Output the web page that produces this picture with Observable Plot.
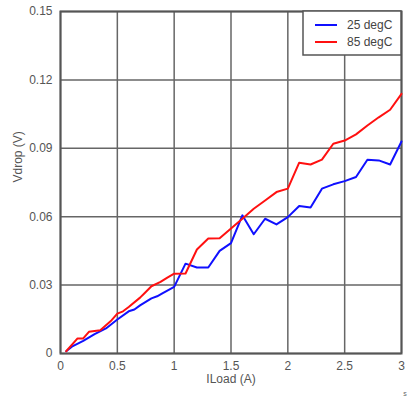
<!DOCTYPE html>
<html>
<head>
<meta charset="utf-8">
<script src="https://cdn.jsdelivr.net/npm/d3@7"></script>
<script src="https://cdn.jsdelivr.net/npm/@observablehq/plot@0.6"></script>
<style>
  html, body { margin: 0; padding: 0; background: #fff; }
  #chart { width: 409px; height: 398px; }
</style>
</head>
<body>
<div id="chart"></div>
<script>
const seriesNames = ["25 degC", "85 degC"];
const seriesColors = ["#1010ff", "#ff1010"];

const blueX = [0.05,0.1,0.2,0.3,0.4,0.5,0.6,0.65,0.7,0.8,0.85,0.9,1.0,1.1,1.2,1.3,1.4,1.5,1.6,1.7,1.8,1.9,2.0,2.1,2.2,2.3,2.4,2.5,2.6,2.7,2.8,2.9,3.0];
const blueY = [0.001,0.003,0.0055,0.0085,0.011,0.0149,0.0185,0.0193,0.0211,0.0242,0.0251,0.0265,0.0292,0.0394,0.0377,0.0377,0.045,0.0484,0.0606,0.0523,0.0591,0.0566,0.0598,0.0647,0.064,0.0723,0.0742,0.0756,0.0774,0.085,0.0847,0.0829,0.0930];

const redX = [0.05,0.15,0.2,0.25,0.35,0.45,0.5,0.55,0.6,0.7,0.75,0.8,0.88,0.94,1.0,1.1,1.2,1.3,1.4,1.5,1.6,1.7,1.8,1.9,2.0,2.1,2.2,2.3,2.4,2.5,2.6,2.7,2.8,2.9,3.0];
const redY = [0.001,0.0066,0.0066,0.0095,0.0102,0.0146,0.0175,0.0185,0.0204,0.0245,0.027,0.0295,0.0314,0.0333,0.035,0.0351,0.0456,0.0504,0.0505,0.0548,0.0591,0.0635,0.0671,0.0708,0.0723,0.0837,0.0829,0.085,0.092,0.0934,0.0961,0.1,0.1036,0.1069,0.1139];

const xTicks = [0, 0.5, 1, 1.5, 2, 2.5, 3];
const yTicks = [0, 0.03, 0.06, 0.09, 0.12, 0.15];
const xLabel = "ILoad (A)";
const yLabel = "Vdrop (V)";

const data = [
  ...blueX.map((x, i) => ({x, y: blueY[i], s: seriesNames[0]})),
  ...redX.map((x, i) => ({x, y: redY[i], s: seriesNames[1]}))
];

const font = "Arial, 'Liberation Sans', sans-serif";

const chart = Plot.plot({
  width: 409,
  height: 398,
  marginLeft: 60,
  marginRight: 8,
  marginTop: 11,
  marginBottom: 45,
  style: {fontFamily: font, fontSize: "12px", background: "#fff", color: "#555"},
  x: {domain: [0, 3], ticks: xTicks},
  y: {domain: [0, 0.15], ticks: yTicks},
  color: {domain: seriesNames, range: seriesColors},
  marks: [
    Plot.ruleX(xTicks, {stroke: "#666", strokeWidth: 1.5}),
    Plot.ruleY(yTicks, {stroke: "#666", strokeWidth: 1.5}),
    Plot.frame({stroke: "#555", strokeWidth: 2}),
    Plot.line(data, {x: "x", y: "y", z: "s", stroke: "s", strokeWidth: 2}),
    Plot.axisX(xTicks, {tickSize: 0, tickPadding: 8, label: null, fill: "#555", tickFormat: d => String(d)}),
    Plot.axisY(yTicks, {tickSize: 0, tickPadding: 8, label: null, fill: "#555", tickFormat: d => String(d)}),
    Plot.text([xLabel], {frameAnchor: "bottom", dy: 29, fill: "#555", fontSize: 12}),
    Plot.text([yLabel], {frameAnchor: "left", dx: -42, rotate: -90, fill: "#555", fontSize: 12})
  ]
});

document.getElementById("chart").appendChild(chart);

// Legend in the top-right corner of the frame
const svg = d3.select(chart);
const fr = {left: 60, right: 409 - 8, top: 11};
const boxW = 98, boxH = 44;
const g = svg.append("g").attr("transform", `translate(${fr.right - boxW},${fr.top})`);
g.append("rect").attr("width", boxW).attr("height", boxH)
  .attr("fill", "#fff").attr("stroke", "#555").attr("stroke-width", 1.5);
seriesNames.forEach((name, i) => {
  const yy = 14 + i * 17;
  g.append("line").attr("x1", 12).attr("x2", 34).attr("y1", yy).attr("y2", yy)
    .attr("stroke", seriesColors[i]).attr("stroke-width", 2);
  g.append("text").attr("x", 44).attr("y", yy).attr("dy", "0.35em")
    .attr("text-anchor", "start")
    .attr("fill", "#444").attr("font-size", 12).attr("font-family", font).text(name);
});
svg.append("text").attr("x", 405).attr("y", 396).attr("text-anchor", "middle")
  .attr("fill", "#666").attr("font-size", 7).attr("font-family", font).text("s");
</script>
</body>
</html>
